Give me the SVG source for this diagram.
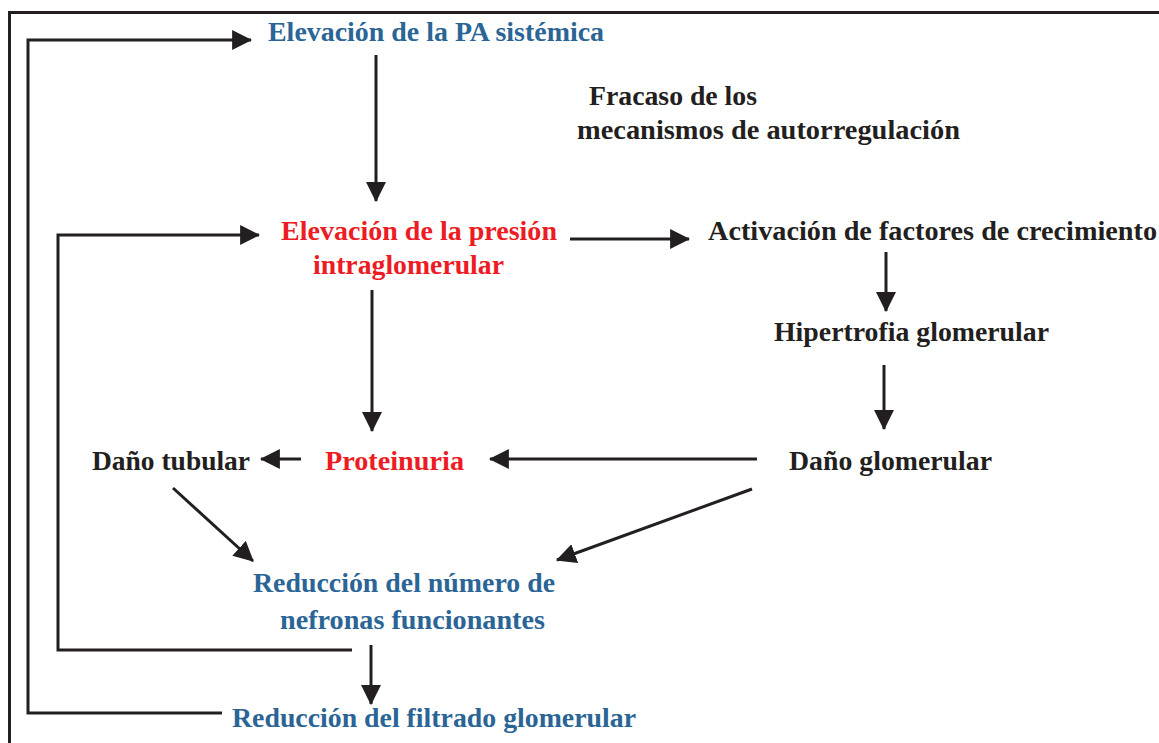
<svg xmlns="http://www.w3.org/2000/svg" width="1159" height="743" viewBox="0 0 1159 743">
<defs>
<marker id="ah" markerUnits="userSpaceOnUse" markerWidth="20" markerHeight="20" viewBox="0 0 18 18" refX="17" refY="9" orient="auto">
<path d="M0,0 L18,9 L0,18 Z" fill="#231f20"/>
</marker>
</defs>
<style>
text{font-family:"Liberation Serif","DejaVu Serif",serif;font-weight:bold;font-size:28px;}
.blue{fill:#2b6596;}
.red{fill:#ed1c24;}
.blk{fill:#231f20;}
.c{fill:none;stroke:#231f20;stroke-width:3;}
.a{marker-end:url(#ah);}
</style>
<rect x="0" y="0" width="1159" height="743" fill="#ffffff"/>
<rect x="9.5" y="12.5" width="1160" height="740" fill="none" stroke="#231f20" stroke-width="3"/>
<g id="connectors">
<polyline class="c a" points="222,713 28,713 28,40 251,40"/>
<polyline class="c a" points="352,650 58,650 58,235 259,235"/>
<line class="c a" x1="376" y1="55" x2="376" y2="201"/>
<line class="c a" x1="570" y1="239" x2="689" y2="239"/>
<line class="c a" x1="372" y1="290" x2="372" y2="431"/>
<line class="c a" x1="886" y1="252" x2="886" y2="311"/>
<line class="c a" x1="884" y1="365" x2="884" y2="429"/>
<line class="c a" x1="757" y1="459" x2="490" y2="459"/>
<line class="c a" x1="301" y1="459" x2="261" y2="459"/>
<line class="c a" x1="173" y1="488" x2="253" y2="561"/>
<line class="c a" x1="752" y1="489" x2="557" y2="560"/>
<line class="c a" x1="371" y1="645" x2="371" y2="704"/>
</g>
<g id="n-pa"><text class="blue" x="268" y="41" textLength="336" lengthAdjust="spacingAndGlyphs">Elevación de la PA sistémica</text></g>
<g id="n-fracaso">
<text class="blk" x="589" y="105" textLength="168" lengthAdjust="spacingAndGlyphs">Fracaso de los</text>
<text class="blk" x="577" y="139" textLength="383" lengthAdjust="spacingAndGlyphs">mecanismos de autorregulación</text>
</g>
<g id="n-presion">
<text class="red" x="281" y="240" textLength="276" lengthAdjust="spacingAndGlyphs">Elevación de la presión</text>
<text class="red" x="313" y="274" textLength="191" lengthAdjust="spacingAndGlyphs">intraglomerular</text>
</g>
<g id="n-activacion"><text class="blk" x="708" y="240" textLength="449" lengthAdjust="spacingAndGlyphs">Activación de factores de crecimiento</text></g>
<g id="n-hipertrofia"><text class="blk" x="774" y="341" textLength="275" lengthAdjust="spacingAndGlyphs">Hipertrofia glomerular</text></g>
<g id="n-tubular"><text class="blk" x="92" y="470" textLength="158" lengthAdjust="spacingAndGlyphs">Daño tubular</text></g>
<g id="n-proteinuria"><text class="red" x="325" y="470" textLength="139" lengthAdjust="spacingAndGlyphs">Proteinuria</text></g>
<g id="n-glomerular"><text class="blk" x="789" y="470" textLength="203" lengthAdjust="spacingAndGlyphs">Daño glomerular</text></g>
<g id="n-nefronas">
<text class="blue" x="253" y="592" textLength="302" lengthAdjust="spacingAndGlyphs">Reducción del número de</text>
<text class="blue" x="280" y="629" textLength="265" lengthAdjust="spacingAndGlyphs">nefronas funcionantes</text>
</g>
<g id="n-filtrado"><text class="blue" x="232" y="727" textLength="404" lengthAdjust="spacingAndGlyphs">Reducción del filtrado glomerular</text></g>
</svg>
